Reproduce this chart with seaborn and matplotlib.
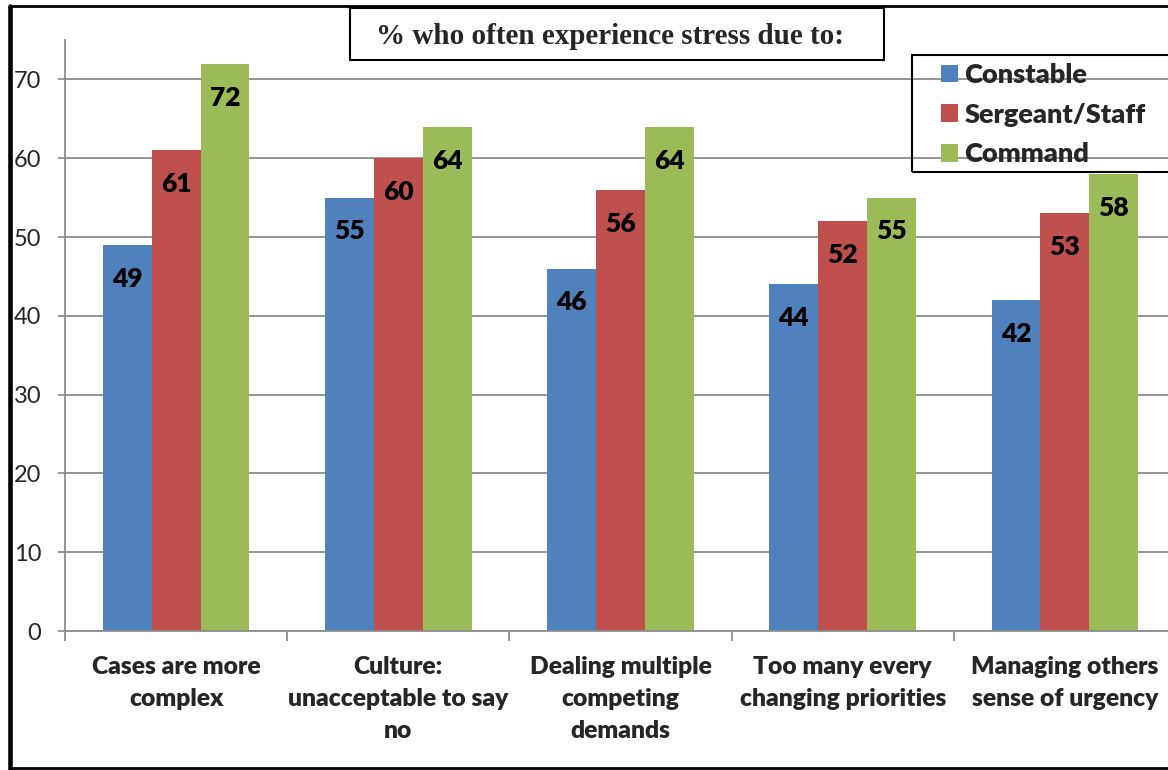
import numpy as np
import pandas as pd
import matplotlib
matplotlib.use("Agg")
import matplotlib.pyplot as plt
from matplotlib.patches import Rectangle
from matplotlib.lines import Line2D
import seaborn as sns

# data
categories = [
    "Cases are more\ncomplex",
    "Culture:\nunacceptable to say\nno",
    "Dealing multiple\ncompeting\ndemands",
    "Too many every\nchanging priorities",
    "Managing others\nsense of urgency",
]
groups = ["Constable", "Sergeant/Staff", "Command"]
constable = [49, 55, 46, 44, 42]
sergeant = [61, 60, 56, 52, 53]
command = [72, 64, 64, 55, 58]
colors = ["#4F81BD", "#C0504D", "#9BBB59"]

df = pd.DataFrame({
    "category": categories * 3,
    "group": [g for g in groups for _ in categories],
    "value": constable + sergeant + command,
})

sns.set_theme(style="white")
plt.rcParams["font.family"] = ["Lato", "DejaVu Sans"]
BOLD = "heavy"

fig = plt.figure(figsize=(11.68, 7.70), dpi=100)
W, H = 1168, 770
ax = fig.add_axes([65 / W, 1 - 631 / H, (1176 - 65) / W, (631 - 40) / H])

sns.barplot(data=df, x="category", y="value", hue="group", palette=colors,
            width=0.66, saturation=1, ax=ax, legend=True, edgecolor="none")

ax.set_ylim(0, 75)
ax.set_xlim(-0.5, 4.5)
ax.set_yticks(range(0, 71, 10))
ax.yaxis.grid(True, color="#8c8c8c", lw=1.3)
ax.set_axisbelow(True)
ax.set_xlabel("")
ax.set_ylabel("")
for s in ["top", "right"]:
    ax.spines[s].set_visible(False)
for s in ["left", "bottom"]:
    ax.spines[s].set_color("#8c8c8c")
    ax.spines[s].set_linewidth(1.3)

ax.tick_params(axis="y", which="major", length=5, width=1.3, color="#8c8c8c",
               labelsize=17, pad=12, left=True)
ax.tick_params(axis="x", which="major", length=0, labelsize=17.7, pad=18)
for lbl in ax.get_xticklabels():
    lbl.set_fontweight(BOLD)
    lbl.set_linespacing(1.55)
ax.set_xticks(np.arange(-0.5, 5, 1), minor=True)
ax.tick_params(axis="x", which="minor", length=7, width=1.3, color="#8c8c8c",
               bottom=True)

# value labels inside bar tops
for cont in ax.containers:
    for bar in cont:
        h = bar.get_height()
        ax.text(bar.get_x() + bar.get_width() / 2, h - 4.3, f"{int(round(h))}",
                ha="center", va="center", fontsize=19, fontweight=BOLD,
                color="black")

leg = ax.legend(loc="upper left", bbox_to_anchor=(941 / W, 1 - 63 / H),
                bbox_transform=fig.transFigure, frameon=False,
                prop={"weight": BOLD, "size": 19.5}, handlelength=0.62,
                handleheight=0.62, handletextpad=0.25, labelspacing=0.58,
                borderpad=0, borderaxespad=0)
fig.patches.append(Rectangle((912 / W, 1 - 172 / H), 300 / W, 117 / H,
                             transform=fig.transFigure, fc="none",
                             ec="black", lw=1.5, zorder=5))

# title box
fig.patches.append(Rectangle((350 / W, 1 - 60 / H), 534 / W, 52 / H,
                             transform=fig.transFigure, fc="white",
                             ec="black", lw=1.5, zorder=5))
fig.text(610 / W, 1 - 36 / H, "% who often experience stress due to:",
         ha="center", va="center", fontsize=21, fontweight="bold",
         family="Liberation Serif", zorder=6)

# outer frame
fig.add_artist(Line2D([10 / W, 10 / W], [0, 1 - 6 / H], color="black", lw=3.3))
fig.add_artist(Line2D([10 / W, 1], [1 - 6 / H, 1 - 6 / H], color="black", lw=2))
fig.add_artist(Line2D([10 / W, 1], [2 / H, 2 / H], color="black", lw=2))

fig.savefig("out.png", dpi=100)
